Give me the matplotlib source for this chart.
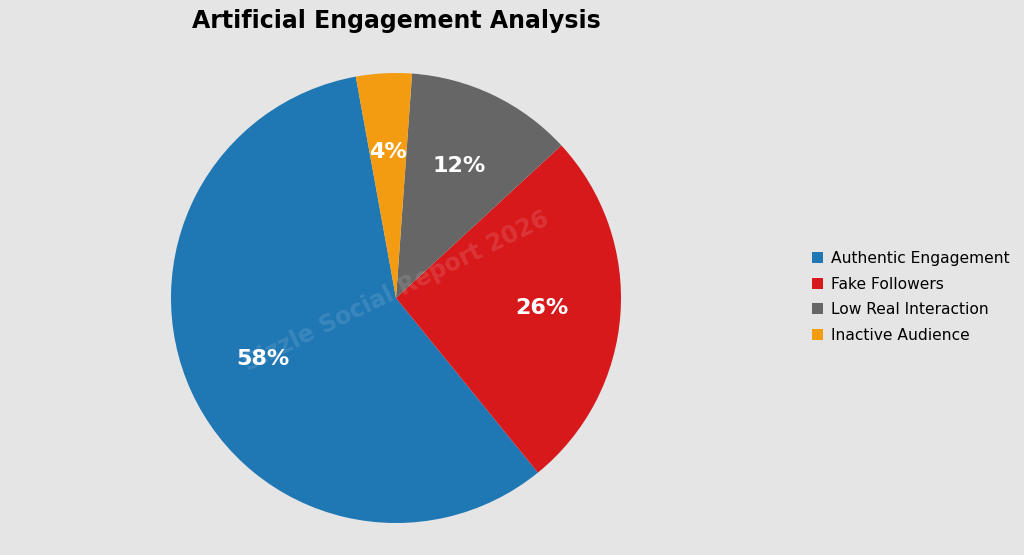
import matplotlib
matplotlib.use("Agg")
import matplotlib.pyplot as plt

# ── data ─────────────────────────────────────────────────────────────────────
LABELS = ["Authentic Engagement", "Fake Followers", "Low Real Interaction", "Inactive Audience"]
SHARES = [58, 26, 12, 4]
COLORS = ["#1f77b4", "#d7191c", "#666666", "#f39c12"]
TITLE = "Artificial Engagement Analysis"
WATERMARK = "Sizzle Social Report 2026"
BG = "#e5e5e5"
# ─────────────────────────────────────────────────────────────────────────────

fig = plt.figure(figsize=(10.24, 5.55), dpi=100, facecolor=BG)
# square axes around the pie, radius ~225 px
ax = fig.add_axes([171 / 1024, 32 / 555, 450 / 1024, 450 / 555])
ax.set_facecolor(BG)

wedges, _, autotexts = ax.pie(
    SHARES, colors=COLORS, startangle=100.3, counterclock=True,
    autopct="%1.0f%%", pctdistance=0.65,
    textprops={"color": "white", "fontsize": 16, "fontweight": "bold"},
)
ax.set_xlim(-1, 1)
ax.set_ylim(-1, 1)
ax.set_aspect("equal")

ax.text(0, 0.03, WATERMARK, ha="center", va="center", rotation=26,
        fontsize=17, fontweight="bold", color="white", alpha=0.12)

fig.text(396 / 1024, 1 - 21 / 555, TITLE, ha="center", va="center",
         fontsize=17, fontweight="bold")

fig.legend(wedges, LABELS, loc="center left", bbox_to_anchor=(798 / 1024, 1 - 297 / 555),
           frameon=False, fontsize=11.2, handlelength=0.7, handleheight=0.7,
           handletextpad=0.5, labelspacing=0.68)

fig.savefig("out.png", dpi=100, facecolor=BG)
